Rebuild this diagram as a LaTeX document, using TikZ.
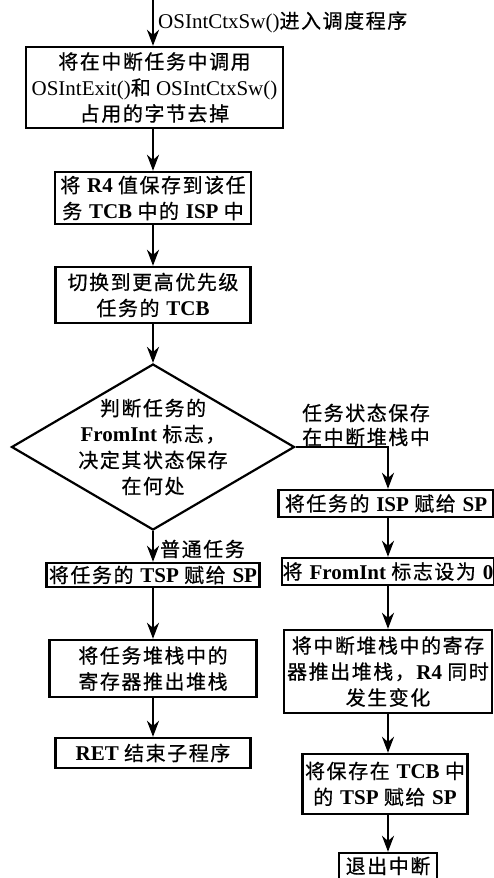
\documentclass[tikz,border=0pt]{standalone}
\usepackage{fontspec}
\setmainfont{Liberation Serif}
\newfontfamily\cjk[Scale=0.95,LetterSpace=8,FakeBold=0.6]{Noto Sans CJK SC}
\newcommand\zh[1]{{\cjk #1}}
\usetikzlibrary{shapes.geometric, arrows.meta, positioning}

\tikzstyle{box}    = [rectangle, draw, line width=2.4pt, inner sep=0pt,
                      align=center, font=\fontsize{21}{26}\selectfont]
\tikzstyle{decide} = [diamond, draw, line width=2.2pt, inner sep=0pt,
                      minimum width=283pt, minimum height=166pt]
\tikzstyle{note}   = [inner sep=0pt, align=left, font=\fontsize{21}{24}\selectfont]
\tikzstyle{arrow}  = [-{Stealth[length=16pt,width=12pt]}, line width=2.4pt]

\begin{document}
\begin{tikzpicture}[x=1pt, y=-1pt, font=\fontsize{21}{26}\selectfont]
  \useasboundingbox (0,0) rectangle (494,878);

  %% main column
  \coordinate (start) at (153,0);
  \node[anchor=west, note] (entry) at (158,22) {OSIntCtxSw()\zh{进入调度程序}};

  \node[box, minimum width=257pt, minimum height=81pt] (trim) at (154.5,87.5)
        {\zh{将在中断任务中调用}\\OSIntExit()\zh{和} OSIntCtxSw()\\\zh{占用的字节去掉}};
  \node[box, minimum width=196pt, minimum height=52pt] (saveisp) at (153,198)
        {\zh{将} \textbf{R4} \zh{值保存到该任}\\\zh{务} \textbf{TCB} \zh{中的} \textbf{ISP} \zh{中}};
  \node[box, minimum width=195pt, minimum height=56pt] (switch) at (153,295)
        {\zh{切换到更高优先级}\\\zh{任务的} \textbf{TCB}};

  %% decision
  \node[decide] (check) at (153,447) {};
  \node[box, draw=none] (checktxt) at (check)
        {\zh{判断任务的}\\\textbf{FromInt} \zh{标志，}\\\zh{决定其状态保存}\\\zh{在何处}};

  %% ordinary task
  \node[anchor=west, note] (plain) at (160,549) {\zh{普通任务}};
  \node[box, minimum width=213pt, minimum height=24pt] (tspl) at (153,575)
        {\zh{将任务的} \textbf{TSP} \zh{赋给} \textbf{SP}};
  \node[box, minimum width=207pt, minimum height=57pt] (popl) at (153,668.5)
        {\zh{将任务堆栈中的}\\\zh{寄存器推出堆栈}};
  \node[box, minimum width=195pt, minimum height=30pt] (ret) at (153,753)
        {\textbf{RET} \zh{结束子程序}};

  %% state kept on the interrupt stack
  \node[note] (stacknote) at (366,425) {\zh{任务状态保存}\\\zh{在中断堆栈中}};
  \node[box, minimum width=215pt, minimum height=27pt] (ispr) at (386,503.5)
        {\zh{将任务的} \textbf{ISP} \zh{赋给} \textbf{SP}};
  \node[box, minimum width=212pt, minimum height=27pt] (clrflag) at (388,571.5)
        {\zh{将} \textbf{FromInt} \zh{标志设为} \textbf{0}};
  \node[box, minimum width=208pt, minimum height=83pt] (popr) at (388,671.5)
        {\zh{将中断堆栈中的寄存}\\\zh{器推出堆栈，}\textbf{R4} \zh{同时}\\\zh{发生变化}};
  \node[box, minimum width=165pt, minimum height=60pt] (tspr) at (385,784)
        {\zh{将保存在} \textbf{TCB} \zh{中}\\\zh{的} \textbf{TSP} \zh{赋给} \textbf{SP}};
  \node[box, minimum width=98pt, minimum height=26pt] (leave) at (388,866)
        {\zh{退出中断}};

  %% Arrows
  \draw[arrow] (start) -- (trim.north -| start);
  \draw[arrow] (trim.south -| saveisp) -- (saveisp);
  \draw[arrow] (saveisp) -- (switch);
  \draw[arrow] (switch) -- (check);
  \draw[arrow] (check) -- (tspl);
  \draw[arrow] (tspl) -- (popl);
  \draw[arrow] (popl) -- (ret);
  \draw[arrow] (check.east) -| (clrflag.north |- ispr.north);
  \draw[arrow] (ispr.south -| clrflag) -- (clrflag);
  \draw[arrow] (clrflag) -- (popr);
  \draw[arrow] (popr) -- (popr |- tspr.north);
  \draw[arrow] (popr |- tspr.south) -- (leave);

\end{tikzpicture}
\end{document}
